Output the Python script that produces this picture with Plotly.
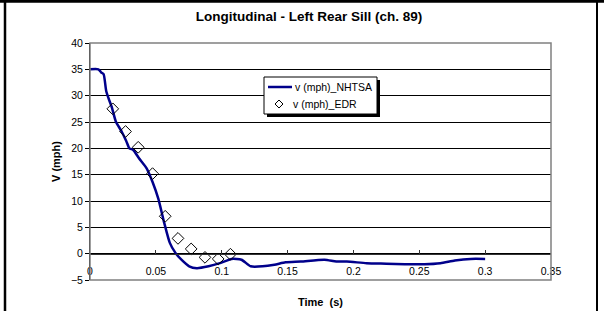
import plotly.graph_objects as go

# ---- data ----
nhtsa_t = [0.0, 0.0064, 0.0085, 0.0103, 0.0123, 0.0145, 0.0167, 0.0196, 0.024, 0.0275, 0.0299,
           0.0328, 0.0372, 0.043, 0.0475, 0.0519, 0.0563, 0.0606, 0.065, 0.0694, 0.0753,
           0.0811, 0.09, 0.0987, 0.1075, 0.115, 0.122, 0.131, 0.14, 0.1485, 0.16, 0.178,
           0.187, 0.195, 0.21, 0.225, 0.239, 0.254, 0.266, 0.277, 0.289, 0.3]
nhtsa_v = [35.0, 35.0, 34.4, 34.1, 30.9, 29.2, 27.7, 25.1, 23.2, 21.4, 20.0,
           19.7, 18.1, 16.2, 13.6, 10.4, 5.9, 2.05, 0.1, -1.15, -2.4,
           -2.75, -2.4, -1.8, -1.0, -1.15, -2.4, -2.4, -2.1, -1.65, -1.5, -1.15,
           -1.5, -1.5, -1.8, -1.9, -2.0, -2.0, -1.8, -1.3, -1.0, -1.0]

edr_t = [0.0173, 0.027, 0.0366, 0.0475, 0.0571, 0.0668, 0.0768, 0.0873, 0.0973, 0.1066]
edr_v = [27.5, 23.2, 20.2, 15.2, 7.1, 2.9, 0.9, -0.7, -1.0, -0.1]

x_tickvals = [0, 0.05, 0.1, 0.15, 0.2, 0.25, 0.3, 0.35]
x_ticktext = ["0", "0.05", "0.1", "0.15", "0.2", "0.25", "0.3", "0.35"]
y_tickvals = [-5, 0, 5, 10, 15, 20, 25, 30, 35, 40]

title_text = "Longitudinal - Left Rear Sill (ch. 89)"
name_nhtsa = "v (mph)_NHTSA"
name_edr = "v (mph)_EDR"
FONT = "Arial, Liberation Sans, sans-serif"
LINE_COLOR = "#00008B"

fig = go.Figure()
fig.add_trace(go.Scatter(x=nhtsa_t, y=nhtsa_v, mode="lines", name=name_nhtsa,
                         line=dict(color=LINE_COLOR, width=2.5, shape="spline", smoothing=0.6)))
fig.add_trace(go.Scatter(x=edr_t, y=edr_v, mode="markers", name=name_edr,
                         marker=dict(symbol="diamond-open", size=9, color="black",
                                     line=dict(width=1, color="black"))))

W, H = 604, 311
L, R, T, B = 90, 53, 43, 31
pw, ph = W - L - R, H - T - B

def px(xp):
    return (xp - L) / pw

def py(yp):
    return (H - B - yp) / ph

# legend geometry (pixels)
lg_x0, lg_x1, lg_y0, lg_y1 = 264, 377, 77, 114
row1, row2 = 87, 104

shapes = [
    # plot area border (gray)
    dict(type="rect", xref="paper", yref="paper", x0=0, x1=1, y0=0, y1=1,
         line=dict(color="#808080", width=1.5), layer="above"),
    # legend shadow + box
    dict(type="rect", xref="paper", yref="paper", x0=px(lg_x0 + 3), x1=px(lg_x1 + 3),
         y0=py(lg_y1 + 3), y1=py(lg_y0 + 3), fillcolor="black", line=dict(width=0), layer="above"),
    dict(type="rect", xref="paper", yref="paper", x0=px(lg_x0), x1=px(lg_x1),
         y0=py(lg_y1), y1=py(lg_y0), fillcolor="white", line=dict(color="black", width=1),
         layer="above"),
    # legend samples
    dict(type="line", xref="paper", yref="paper", x0=px(268), x1=px(292), y0=py(row1), y1=py(row1),
         line=dict(color=LINE_COLOR, width=2.5), layer="above"),
    dict(type="path", xref="paper", yref="paper",
         path="M {a},{b} L {c},{d} L {a},{e} L {f},{d} Z".format(
             a=px(279), b=py(row2 - 4), c=px(283), d=py(row2), e=py(row2 + 4), f=px(275)),
         line=dict(color="black", width=1), fillcolor="white", layer="above"),
    # outer frame lines (black): left, top, right
    dict(type="line", xref="paper", yref="paper", x0=px(5), x1=px(5), y0=py(H + 2), y1=py(-2),
         line=dict(color="black", width=2.5), layer="above"),
    dict(type="line", xref="paper", yref="paper", x0=px(-2), x1=px(W + 2), y0=py(1.2), y1=py(1.2),
         line=dict(color="black", width=3), layer="above"),
    dict(type="line", xref="paper", yref="paper", x0=px(597), x1=px(597), y0=py(H + 2), y1=py(-2),
         line=dict(color="black", width=2), layer="above"),
]

annotations = [
    dict(text=name_nhtsa, xref="paper", yref="paper", x=px(293), y=py(row1), xanchor="left",
         yanchor="middle", showarrow=False, font=dict(size=10.5, family=FONT, color="black")),
    dict(text=name_edr, xref="paper", yref="paper", x=px(291), y=py(row2), xanchor="left",
         yanchor="middle", showarrow=False, font=dict(size=10.5, family=FONT, color="black")),
]

fig.update_layout(
    width=W, height=H,
    margin=dict(l=L, r=R, t=T, b=B, pad=0),
    paper_bgcolor="white", plot_bgcolor="white",
    font=dict(family=FONT, size=10, color="black"),
    title=dict(text="<b>" + title_text + "</b>", x=309 / W, xanchor="center",
               y=1 - 16 / H, yanchor="middle", font=dict(size=13.5, family=FONT)),
    showlegend=False,
    xaxis=dict(range=[0, 0.35], tickvals=x_tickvals, ticktext=x_ticktext,
               anchor="free", position=5 / 45, showgrid=False, zeroline=False,
               showline=True, linecolor="#333333", linewidth=1,
               ticks="inside", ticklen=4, tickcolor="#333333",
               ticklabelstandoff=8, tickfont=dict(size=10.5), automargin=False,
               title=dict(text="<b>Time  (s)</b>", font=dict(size=11), standoff=22)),
    yaxis=dict(range=[-5, 40], tickvals=y_tickvals, showgrid=True, gridcolor="black",
               gridwidth=1, zeroline=False, showline=True, linecolor="black", linewidth=1,
               ticks="outside", ticklen=4, tickcolor="black", tickfont=dict(size=10.5),
               automargin=False,
               title=dict(text="<b>V (mph)</b>", font=dict(size=11), standoff=8)),
    shapes=shapes,
    annotations=annotations,
)

fig.write_html("out.html", config={"displayModeBar": False},
               post_script="document.body.style.margin='0';document.body.style.overflow='hidden';")
